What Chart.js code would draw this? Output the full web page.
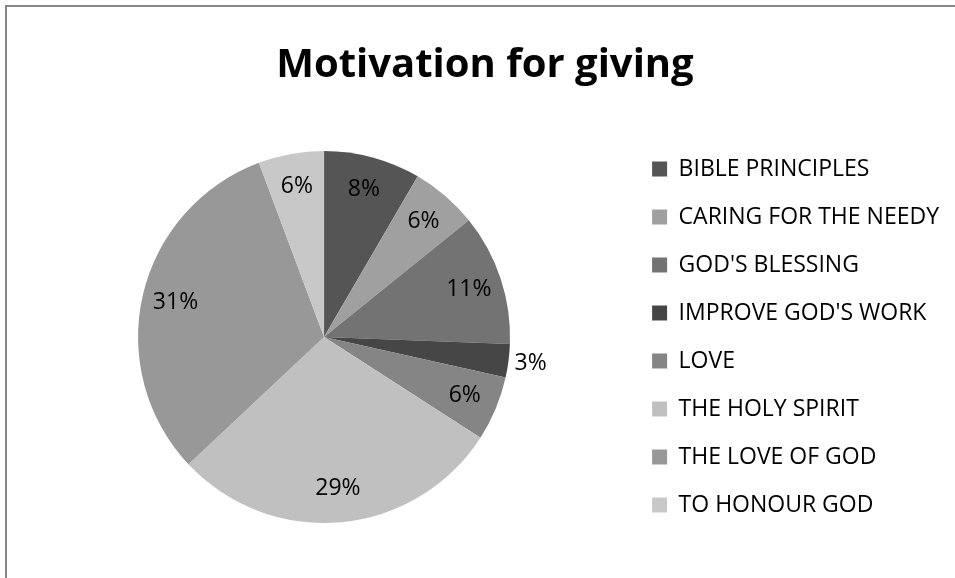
<!DOCTYPE html>
<html>
<head>
<meta charset="utf-8">
<script src="https://cdn.jsdelivr.net/npm/chart.js@4.4.0/dist/chart.umd.min.js"></script>
<style>
  html, body { margin: 0; padding: 0; background: #ffffff; }
  #wrap { position: relative; width: 955px; height: 578px; overflow: hidden; }
  #frame { position: absolute; left: 5px; top: 5px; width: 1000px; height: 572px;
           border-left: 2px solid #878787; border-top: 2px solid #878787; }
  canvas { position: absolute; left: 0; top: 0; }
</style>
</head>
<body>
<div id="wrap">
  <div id="frame"></div>
  <canvas id="c" width="955" height="578"></canvas>
</div>
<script>
const titleText = "Motivation for giving";
const categories = ["BIBLE PRINCIPLES", "CARING FOR THE NEEDY", "GOD'S BLESSING", "IMPROVE GOD'S WORK", "LOVE", "THE HOLY SPIRIT", "THE LOVE OF GOD", "TO HONOUR GOD"];
const shares = [8.4, 5.8, 11.4, 2.9, 5.6, 28.9, 31.3, 5.7];
const sliceColors = ["#555555", "#a0a0a0", "#737373", "#464646", "#858585", "#c0c0c0", "#989898", "#c8c8c8"];

const FONT = "'Open Sans', 'Liberation Sans', sans-serif";

const pctLabels = {
  id: 'pctLabels',
  afterDatasetsDraw(chart) {
    const ctx = chart.ctx;
    const meta = chart.getDatasetMeta(0);
    const data = chart.data.datasets[0].data;
    const total = data.reduce((a, b) => a + b, 0);
    ctx.save();
    ctx.font = "23px " + FONT;
    ctx.fillStyle = "#000000";
    ctx.textAlign = "center";
    ctx.textBaseline = "middle";
    meta.data.forEach((arc, i) => {
      const p = arc.getProps(['x', 'y', 'startAngle', 'endAngle', 'outerRadius'], true);
      const mid = (p.startAngle + p.endAngle) / 2;
      const frac = data[i] / total;
      const k = frac < 0.04 ? 1.12 : 0.82;
      const x = p.x + Math.cos(mid) * p.outerRadius * k;
      const y = p.y + Math.sin(mid) * p.outerRadius * k;
      ctx.fillText(Math.round(frac * 100) + "%", x, y);
    });
    ctx.restore();
  }
};

new Chart(document.getElementById('c'), {
  type: 'pie',
  data: {
    labels: categories,
    datasets: [{
      data: shares,
      backgroundColor: sliceColors,
      borderWidth: 0,
      radius: 186
    }]
  },
  options: {
    responsive: false,
    animation: false,
    layout: { padding: { left: 21, right: 6, top: 0, bottom: 24 } },
    plugins: {
      title: {
        display: true,
        text: titleText,
        color: "#000000",
        font: { family: FONT, size: 40, weight: 'bold', lineHeight: 1.2 },
        padding: { top: 42, bottom: 30 }
      },
      legend: {
        position: 'right',
        align: 'center',
        fullSize: false,
        maxWidth: 322,
        labels: {
          boxWidth: 15,
          boxHeight: 15,
          padding: 25,
          color: "#000000",
          font: { family: FONT, size: 23 }
        }
      },
      tooltip: { enabled: false }
    }
  },
  plugins: [pctLabels]
});
</script>
</body>
</html>
